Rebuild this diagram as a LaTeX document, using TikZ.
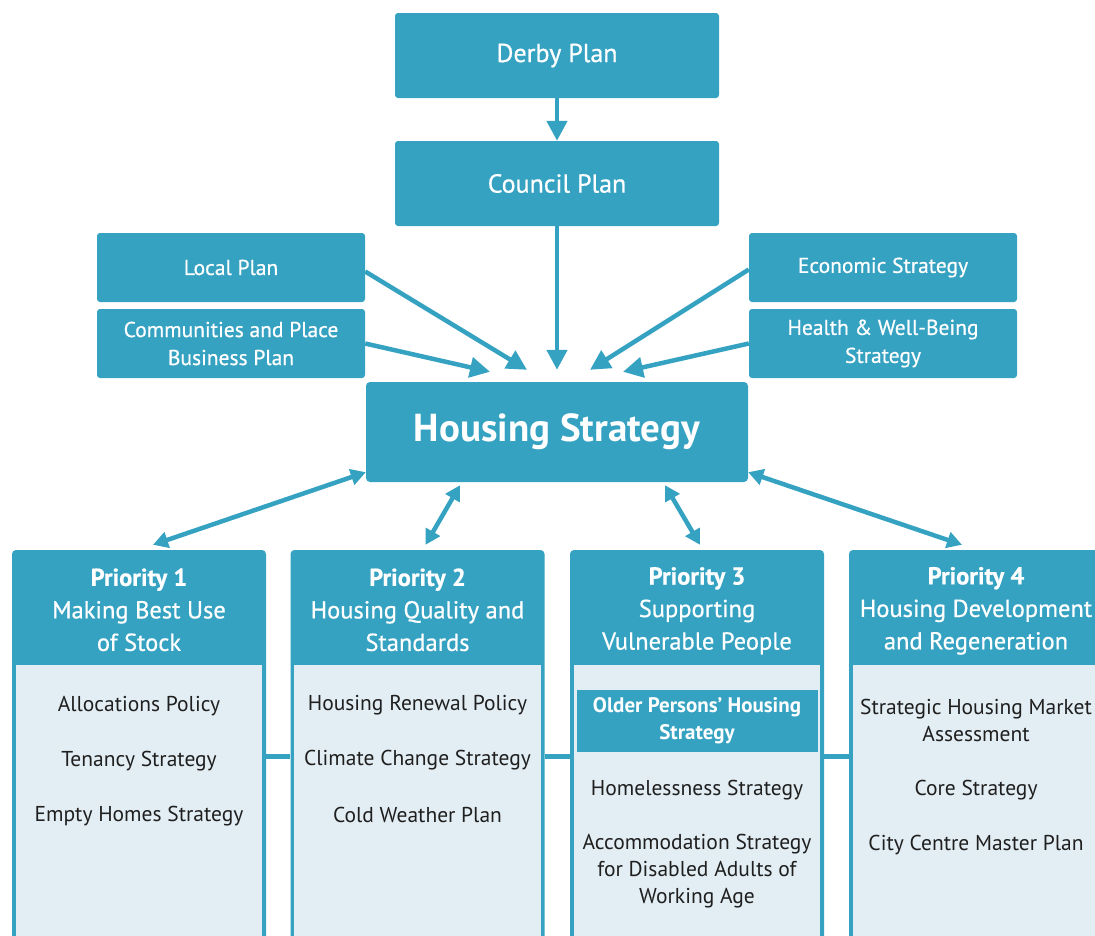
\documentclass[tikz,border=0pt]{standalone}
\usepackage{fontspec}
\setmainfont{PT Sans}
\newfontfamily\medsans[FakeBold=0.6]{PT Sans}
\usetikzlibrary{arrows.meta,positioning}
\definecolor{tealbox}{HTML}{35A2C2}
\definecolor{palebody}{HTML}{E3EEF4}
\tikzset{
  plan/.style={fill=tealbox, rounded corners=3pt, text=white, align=center,
    minimum width=324pt, minimum height=85pt, font=\medsans\fontsize{26}{30}\selectfont},
  side/.style={fill=tealbox, rounded corners=3pt, text=white, align=center,
    minimum width=268pt, minimum height=69pt, font=\medsans\fontsize{21.5}{28}\selectfont},
  prio/.style={fill=tealbox, rounded corners=4pt, minimum width=254pt, minimum height=400pt},
  head/.style={text=white, align=center, font=\medsans\fontsize{24.5}{32.5}\selectfont},
  item/.style={text=black!88, align=center, font=\fontsize{21.5}{27}\selectfont},
  arr/.style={tealbox, line width=4.5pt, -{Triangle[length=20pt,width=20pt]}},
  dbl/.style={tealbox, line width=4.5pt,
    {Triangle[length=15pt,width=16pt]}-{Triangle[length=15pt,width=16pt]}},
  link/.style={tealbox, line width=5pt},
}
\begin{document}
\begin{tikzpicture}[x=1pt,y=-1pt]
    \useasboundingbox (0,0) rectangle (1095,935);

    % top plans
    \node[plan] (derby) at (557,55.5) {Derby Plan};
    \node[plan] (council) at (557,183.5) {Council Plan};

    \node[side] (local) at (231,267.5) {Local Plan};
    \node[side] (comm) at (231,343.5) {Communities and Place\\Business Plan};
    \node[side] (econ) at (883,267.5) {Economic Strategy};
    \node[side] (health) at (883,343.5) {Health \& Well-Being\\Strategy};

    \node[fill=tealbox, rounded corners=4pt, text=white, minimum width=382pt,
      minimum height=100pt, font=\fontsize{39}{44}\selectfont\bfseries]
      (hs) at (557,432) {Housing Strategy};

    \draw[arr] (derby) -- (council);
    \draw[arr] (council) -- ([yshift=12pt]hs.north);
    \draw[arr] ([yshift=-4pt]local.east) -- ([xshift=-30pt,yshift=12pt]hs.north);
    \draw[arr] (comm.east) -- ([xshift=-67pt,yshift=10pt]hs.north);
    \draw[arr] ([yshift=-2pt]econ.west) -- ([xshift=33pt,yshift=12pt]hs.north);
    \draw[arr] (health.west) -- ([xshift=66pt,yshift=10pt]hs.north);

    % priorities
    \node[prio] (p1) at (139,750) {};
    \node[prio] (p2) at (417.5,750) {};
    \node[prio] (p3) at (697,750) {};
    \node[prio] (p4) at (976,750) {};

    \fill[palebody] ([xshift=4pt,yshift=-115pt]p1.north west) rectangle ([xshift=-4pt]p1.south east);
    \fill[palebody] ([xshift=4pt,yshift=-115pt]p2.north west) rectangle ([xshift=-4pt]p2.south east);
    \fill[palebody] ([xshift=4pt,yshift=-115pt]p3.north west) rectangle ([xshift=-4pt]p3.south east);
    \fill[palebody] ([xshift=4pt,yshift=-115pt]p4.north west) rectangle ([xshift=-4pt]p4.south east);

    \draw[link] ([yshift=-207pt]p1.north east) -- ([yshift=-207pt]p2.north west);
    \draw[link] ([yshift=-207pt]p2.north east) -- ([yshift=-207pt]p3.north west);
    \draw[link] ([yshift=-207pt]p3.north east) -- ([yshift=-207pt]p4.north west);

    \node[head] (p1t) at ([yshift=-60pt]p1.north) {\bfseries Priority 1\\Making Best Use\\of Stock};
    \node[head] (p2t) at ([yshift=-60pt]p2.north) {\bfseries Priority 2\\Housing Quality and\\Standards};
    \node[head] (p3t) at ([yshift=-61pt]p3.north) {\bfseries Priority 3\\Supporting\\Vulnerable People};
    \node[head] (p4t) at ([yshift=-61pt]p4.north) {\bfseries Priority 4\\Housing Development\\and Regeneration};

    \draw[dbl] ([yshift=10pt]hs.south west) -- ([xshift=14pt,yshift=5pt]p1.north);
    \draw[dbl] ([xshift=-97pt,yshift=-3pt]hs.south) -- ([xshift=8pt,yshift=5pt]p2.north);
    \draw[dbl] ([xshift=108pt,yshift=-3pt]hs.south) -- ([xshift=3pt,yshift=5pt]p3.north);
    \draw[dbl] ([yshift=10pt]hs.south east) -- ([xshift=-14pt,yshift=5pt]p4.north);

    % items
    \node[item] (a1) at ([yshift=-156pt]p1.north) {Allocations Policy};
    \node[item] (a2) at ([yshift=-211pt]p1.north) {Tenancy Strategy};
    \node[item] (a3) at ([yshift=-266pt]p1.north) {Empty Homes Strategy};

    \node[item] (b1) at ([yshift=-155pt]p2.north) {Housing Renewal Policy};
    \node[item] (b2) at ([yshift=-210pt]p2.north) {Climate Change Strategy};
    \node[item] (b3) at ([yshift=-265pt]p2.north) {Cold Weather Plan};

    \node[fill=tealbox, text=white, align=center, minimum width=241pt, minimum height=62pt,
      inner sep=2pt, font=\fontsize{21}{27}\selectfont\bfseries] (c1) at ([yshift=-171pt]p3.north)
      {Older Persons' Housing\\Strategy};
    \node[item] (c2) at ([yshift=-240pt]p3.north) {Homelessness Strategy};
    \node[item] (c3) at ([yshift=-321pt]p3.north) {Accommodation Strategy\\for Disabled Adults of\\Working Age};

    \node[item] (d1) at ([yshift=-171pt]p4.north) {Strategic Housing Market\\Assessment};
    \node[item] (d2) at ([yshift=-240pt]p4.north) {Core Strategy};
    \node[item] (d3) at ([yshift=-295pt]p4.north) {City Centre Master Plan};
\end{tikzpicture}
\end{document}
